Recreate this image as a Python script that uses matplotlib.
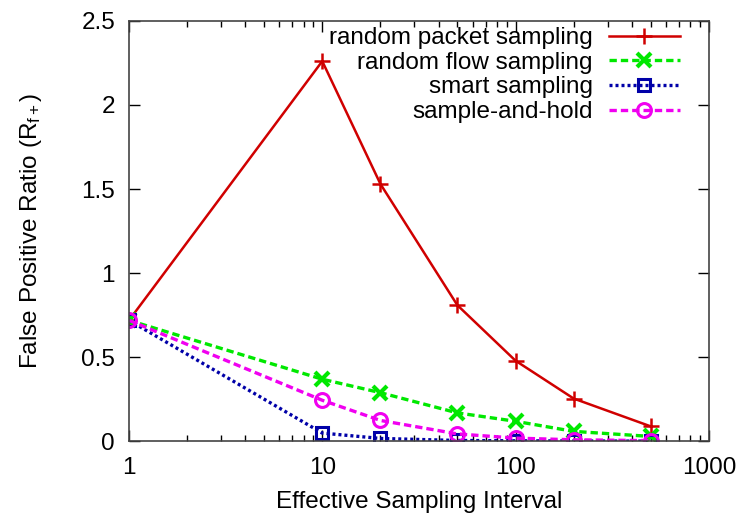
import matplotlib
matplotlib.use("Agg")
import matplotlib.pyplot as plt
from matplotlib.ticker import LogLocator, NullFormatter, FixedLocator

plt.rcParams['font.family'] = ['Liberation Sans', 'DejaVu Sans']
plt.rcParams['mathtext.fontset'] = 'custom'
plt.rcParams['mathtext.rm'] = 'Liberation Sans'
plt.rcParams['mathtext.it'] = 'Liberation Sans'

intervals = [1, 10, 20, 50, 100, 200, 500]
random_packet = [0.72, 2.26, 1.53, 0.81, 0.48, 0.255, 0.09]
random_flow = [0.72, 0.37, 0.29, 0.17, 0.12, 0.06, 0.03]
smart = [0.72, 0.05, 0.018, 0.006, 0.004, 0.003, 0.002]
sample_hold = [0.72, 0.245, 0.125, 0.045, 0.02, 0.01, 0.005]

labels = ["random packet sampling", "random flow sampling",
          "smart sampling", "sample-and-hold"]
yticks = [0, 0.5, 1, 1.5, 2, 2.5]
ytick_labels = ["0", "0.5", "1", "1.5", "2", "2.5"]
xticks = [1, 10, 100, 1000]
xtick_labels = ["1", "10", "100", "1000"]

fig = plt.figure(figsize=(7.43, 5.2), dpi=100)
ax = fig.add_axes([0.1736, 0.151, 0.7804, 0.809])

fs = 17.5

ax.plot(intervals, random_packet, color='#d00000', lw=1.8, ls='-',
        marker='+', ms=12, mew=1.8, label=labels[0])
ax.plot(intervals, random_flow, color='#00e800', lw=2.4, ls=(0, (2.2, 1.2)),
        marker='x', ms=10, mew=3, label=labels[1])
ax.plot(intervals, smart, color='#0000a8', lw=2.4, ls=(0, (0.9, 0.9)),
        marker='s', ms=9, mew=2.2, mfc='none', label=labels[2])
ax.plot(intervals, sample_hold, color='#f000f0', lw=2.4, ls=(0, (2.2, 1.2)),
        marker='o', ms=10, mew=2.2, mfc='none', label=labels[3])

ax.set_xscale('log')
ax.set_xlim(1, 1000)
ax.set_ylim(0, 2.5)
ax.xaxis.set_major_locator(FixedLocator(xticks))
ax.set_xticklabels(xtick_labels)
ax.xaxis.set_minor_locator(LogLocator(base=10, subs=range(2, 10)))
ax.xaxis.set_minor_formatter(NullFormatter())
ax.set_yticks(yticks)
ax.set_yticklabels(ytick_labels)

ax.tick_params(which='both', direction='in', top=True, right=True,
               labelsize=fs, colors='black', width=1)
ax.tick_params(which='major', length=8)
ax.tick_params(axis='x', which='major', pad=11)
ax.tick_params(axis='y', which='major', pad=10)
ax.tick_params(which='minor', length=4)
for s in ax.spines.values():
    s.set_color('#444444')
    s.set_linewidth(1.2)

ax.set_xlabel("Effective Sampling Interval", fontsize=fs, labelpad=9)
ax.set_ylabel(r"False Positive Ratio (R$_{\mathrm{f+}}$)", fontsize=fs, labelpad=27)

leg = ax.legend(loc='upper right', bbox_to_anchor=(0.95, 0.985),
                markerfirst=False, frameon=False,
                fontsize=fs, handlelength=2.92, handletextpad=0.66,
                labelspacing=0.11, borderaxespad=0.0, borderpad=0.0)

fig.savefig("out.png", dpi=100)
